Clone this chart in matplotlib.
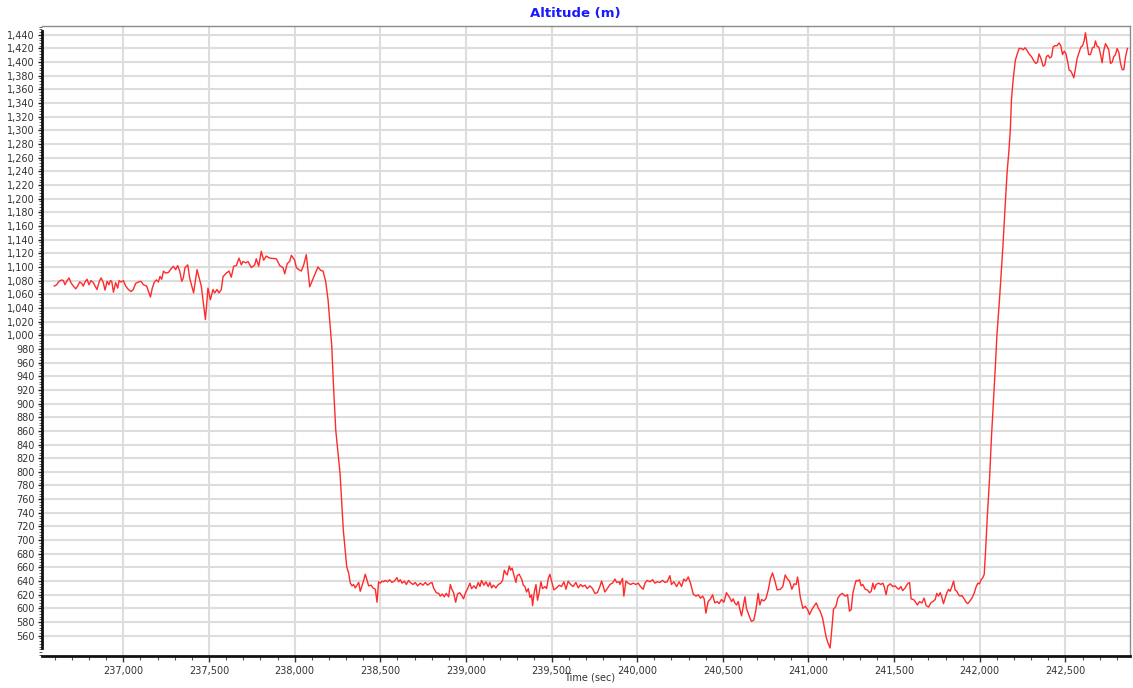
import matplotlib
matplotlib.use("Agg")
import matplotlib.pyplot as plt
from matplotlib.ticker import MultipleLocator, FuncFormatter

# ---- data (time in seconds, altitude in metres) ----
time_a = [236597, 236611, 236624, 236640, 236650, 236659, 236669, 236683, 236694, 236708,
          236722, 236733, 236745, 236757, 236766, 236776, 236788, 236799, 236811, 236825,
          236835, 236846, 236860, 236870, 236883, 236893, 236905, 236916, 236924, 236932,
          236942, 236955, 236967, 236975, 236986, 237000, 237014, 237029, 237045, 237058,
          237072, 237088, 237103, 237117, 237136, 237150, 237158, 237169, 237181, 237193,
          237204, 237214, 237224, 237234, 237247, 237263, 237278, 237292, 237305, 237317,
          237329, 237341, 237350, 237360, 237376]
alt_a = [1072, 1074, 1079, 1081, 1080, 1074, 1079, 1084, 1077, 1072,
         1068, 1072, 1078, 1076, 1072, 1078, 1082, 1074, 1080, 1077,
         1072, 1067, 1079, 1084, 1077, 1066, 1079, 1074, 1080, 1079,
         1063, 1077, 1069, 1080, 1078, 1080, 1072, 1067, 1064, 1067,
         1076, 1078, 1079, 1074, 1072, 1062, 1056, 1069, 1078, 1081,
         1078, 1086, 1082, 1094, 1091, 1092, 1097, 1101, 1096, 1102,
         1094, 1079, 1084, 1099, 1103]

time_b = [237387, 237410, 237430, 237455, 237479, 237494, 237508, 237523, 237533, 237547,
          237558, 237572, 237582, 237601, 237617, 237630, 237644, 237660, 237675, 237689,
          237698, 237714, 237728, 237747, 237767, 237776, 237790, 237805, 237819, 237835,
          237854, 237893, 237913, 237932, 237942, 237957, 237971, 237981, 238000, 238010,
          238025, 238039, 238053, 238068, 238088, 238111, 238136, 238152, 238166, 238181,
          238195, 238208, 238217, 238226, 238240, 238265, 238284, 238304]
alt_b = [1084, 1062, 1096, 1072, 1023, 1069, 1052, 1067, 1062, 1067,
         1062, 1067, 1086, 1091, 1094, 1085, 1101, 1102, 1113, 1103,
         1108, 1106, 1108, 1099, 1103, 1112, 1101, 1123, 1110, 1116,
         1113, 1112, 1102, 1099, 1090, 1105, 1108, 1117, 1110, 1099,
         1096, 1094, 1103, 1118, 1071, 1085, 1100, 1095, 1094, 1079,
         1052, 1010, 983, 930, 861, 798, 715, 661]

time_c = [238315, 238325, 238335, 238344, 238354, 238364, 238374, 238383, 238393, 238403,
          238412, 238422, 238432, 238446, 238457, 238471, 238481, 238490, 238500, 238510,
          238519, 238529, 238543, 238554, 238568, 238582, 238597, 238607, 238617, 238627,
          238640, 238652, 238665, 238675, 238691, 238704, 238718, 238734, 238749, 238763,
          238776, 238792, 238802, 238811, 238827, 238841, 238850, 238862, 238874, 238885,
          238899, 238909, 238918, 238928, 238940, 238951, 238963, 238975, 238986, 238998,
          239010]
alt_c = [652, 637, 633, 635, 630, 634, 638, 625, 633, 641,
         650, 642, 633, 634, 630, 628, 609, 639, 637, 640,
         639, 641, 639, 642, 638, 640, 645, 639, 642, 637,
         640, 635, 641, 638, 635, 638, 633, 637, 634, 638,
         634, 637, 638, 630, 623, 622, 618, 621, 617, 622,
         617, 635, 628, 623, 609, 621, 623, 619, 614, 623,
         629]

time_d = [239023, 239033, 239047, 239059, 239072, 239082, 239091, 239105, 239117, 239130,
          239140, 239150, 239160, 239175, 239189, 239203, 239214, 239224, 239234, 239241,
          239253, 239261, 239270, 239280, 239292, 239299, 239311, 239325, 239335, 239344,
          239354, 239364, 239374, 239383, 239389, 239399, 239409, 239418, 239428, 239438,
          239447, 239461, 239471, 239481, 239490, 239500, 239514, 239529, 239545, 239558,
          239572, 239584, 239597, 239611, 239626, 239642, 239656, 239669, 239681, 239695,
          239708, 239724, 239739, 239753, 239767, 239782, 239792, 239802, 239811, 239825,
          239841, 239856, 239870, 239880, 239895]
alt_d = [637, 629, 633, 629, 638, 632, 641, 634, 639, 632,
         638, 630, 634, 630, 635, 637, 641, 656, 651, 649,
         662, 656, 659, 649, 638, 648, 650, 643, 634, 632,
         624, 629, 616, 620, 604, 624, 635, 612, 624, 639,
         629, 632, 629, 644, 650, 640, 627, 630, 634, 632,
         639, 628, 640, 635, 632, 638, 630, 635, 632, 634,
         629, 633, 629, 622, 623, 632, 640, 632, 624, 629,
         635, 637, 643, 638, 639]

time_e = [239899, 239914, 239922, 239934, 239947, 239961, 239977, 239992, 240006, 240019,
          240035, 240045, 240058, 240074, 240090, 240103, 240117, 240132, 240148, 240162,
          240175, 240191, 240200, 240214, 240230, 240245, 240259, 240272, 240284, 240298,
          240311, 240327, 240343, 240356, 240370, 240382, 240391, 240401, 240414, 240428,
          240440, 240453, 240467, 240478, 240492, 240506, 240521, 240537, 240551, 240560,
          240570, 240580, 240590, 240599, 240609, 240619, 240629, 240638, 240648, 240658,
          240667, 240681, 240693, 240706, 240716, 240726, 240739, 240751, 240765, 240778,
          240790, 240804, 240817]
alt_e = [635, 644, 618, 640, 637, 635, 637, 635, 637, 632,
         628, 637, 641, 639, 642, 637, 639, 638, 641, 638,
         639, 648, 635, 639, 632, 639, 632, 643, 640, 646,
         637, 621, 618, 620, 615, 618, 614, 593, 610, 614,
         620, 608, 610, 607, 613, 609, 623, 617, 610, 614,
         608, 605, 610, 599, 589, 603, 617, 600, 593, 586,
         581, 583, 598, 622, 605, 613, 611, 614, 627, 644,
         652, 640, 627]

time_f = [240835, 240850, 240864, 240877, 240889, 240903, 240916, 240928, 240936, 240942,
          240951, 240967, 240981, 240994, 241006, 241019, 241029, 241045, 241058, 241068,
          241082, 241091, 241103, 241113, 241126, 241136, 241146, 241160, 241171, 241185,
          241198, 241214, 241228, 241239, 241249, 241259, 241269, 241278, 241288, 241298,
          241307, 241317, 241331, 241344, 241356, 241366, 241376, 241385, 241395, 241409,
          241422, 241434, 241442, 241453, 241463, 241477, 241492, 241506, 241516, 241527,
          241539, 241550, 241564, 241578, 241590, 241599, 241613, 241623, 241636, 241648,
          241662, 241675, 241687, 241701, 241714, 241726, 241740, 241749, 241759, 241769,
          241778, 241788, 241798, 241808, 241818, 241827, 241837, 241847, 241856, 241866,
          241876, 241885, 241895, 241909, 241920, 241930, 241940, 241954, 241967, 241979,
          241989, 241998, 242008, 242018]
alt_f = [628, 632, 649, 643, 640, 628, 636, 635, 646, 637,
         618, 600, 603, 599, 591, 598, 602, 608, 600, 596,
         586, 574, 558, 550, 542, 569, 599, 603, 615, 620,
         622, 618, 620, 596, 598, 622, 633, 641, 640, 642,
         633, 635, 628, 627, 623, 625, 637, 628, 635, 637,
         635, 637, 632, 620, 633, 636, 632, 633, 630, 628,
         632, 626, 630, 636, 638, 614, 613, 610, 605, 610,
         608, 615, 604, 602, 608, 610, 613, 622, 618, 623,
         617, 607, 615, 623, 628, 625, 632, 640, 627, 625,
         620, 618, 619, 614, 609, 607, 610, 615, 622, 632,
         637, 636, 642, 645]

time_g = [242026, 242035, 242045, 242057, 242068, 242080, 242090, 242100, 242115, 242125,
          242135, 242150, 242160, 242170, 242178, 242185, 242195, 242208, 242220,
          242230, 242243, 242253, 242265, 242276, 242288, 242302, 242315, 242327,
          242337, 242346, 242356, 242370, 242380, 242389, 242399, 242409, 242419, 242428,
          242438, 242451, 242463, 242473, 242483, 242493, 242502, 242512, 242522, 242531,
          242541, 242549, 242559, 242568, 242580, 242590, 242600, 242609, 242617, 242627,
          242636, 242646, 242658, 242668, 242675, 242685, 242695, 242705, 242714, 242724,
          242734, 242743, 242753, 242763, 242773, 242782, 242792, 242802, 242812, 242821,
          242831, 242841, 242851, 242862]
alt_g = [650, 690, 740, 790, 850, 905, 950, 1000, 1052, 1090,
         1130, 1198, 1240, 1270, 1300, 1345, 1375, 1403, 1413,
         1420, 1420, 1418, 1421, 1417, 1412, 1408, 1402, 1398,
         1400, 1412, 1406, 1394, 1396, 1408, 1410, 1406, 1408, 1422,
         1424, 1424, 1428, 1424, 1411, 1416, 1413, 1402, 1388, 1387,
         1382, 1377, 1391, 1405, 1414, 1422, 1424, 1431, 1443, 1425,
         1411, 1411, 1421, 1422, 1431, 1423, 1422, 1411, 1399, 1417,
         1427, 1423, 1418, 1398, 1400, 1408, 1411, 1420, 1414, 1399,
         1389, 1389, 1408, 1420]

time_s = time_a + time_b + time_c + time_d + time_e + time_f + time_g
altitude = alt_a + alt_b + alt_c + alt_d + alt_e + alt_f + alt_g

x_major_ticks = [237000, 237500, 238000, 238500, 239000, 239500,
                 240000, 240500, 241000, 241500, 242000, 242500]
y_major_ticks = list(range(560, 1441, 20))

# ---- figure ----
W, H = 1133, 688
fig = plt.figure(figsize=(W / 100, H / 100), dpi=100)
ax = fig.add_axes([42 / W, 1 - 656 / H, (1130 - 42) / W, (656 - 25.5) / H])

ax.plot(time_s, altitude, color="#ff2a2a", linewidth=1.0, zorder=3)

ax.set_xlim(236525, 242877)
ax.set_ylim(530.3, 1453.6)

ax.set_xticks(x_major_ticks)
ax.xaxis.set_minor_locator(MultipleLocator(100))
ax.set_yticks(y_major_ticks)
ax.yaxis.set_minor_locator(MultipleLocator(4))

fmt = FuncFormatter(lambda v, p: f"{int(round(v)):,}")
ax.xaxis.set_major_formatter(fmt)
ax.yaxis.set_major_formatter(fmt)

ax.grid(True, which="major", color="#dddddd", linewidth=1.5, zorder=0)
ax.set_axisbelow(True)

ax.tick_params(axis="x", which="major", length=4, width=1, color="#333333",
               labelsize=7, labelcolor="#333333", pad=3)
ax.tick_params(axis="x", which="minor", length=3, width=0.8, color="#555555")
ax.tick_params(axis="y", which="major", length=3, width=1, color="#222222",
               labelsize=7, labelcolor="#333333", pad=2)
ax.tick_params(axis="y", which="minor", length=2, width=0.6, color="#444444")

for side in ("top", "right"):
    ax.spines[side].set_color("#8a8a8a")
    ax.spines[side].set_linewidth(1.0)
ax.spines["left"].set_color("#111111")
ax.spines["left"].set_linewidth(2.0)
ax.spines["left"].set_bounds(542, 1445)
ax.spines["bottom"].set_color("#111111")
ax.spines["bottom"].set_linewidth(2.0)

fig.text(575 / W, 1 - 14 / H, "Altitude (m)", color="#1a1aff", fontsize=9.5,
         fontweight="bold", ha="center", va="center")
fig.text(590 / W, 1 - 678 / H, "Time (sec)", color="#333333", fontsize=7,
         ha="center", va="center")

fig.savefig("out.png", dpi=100)
